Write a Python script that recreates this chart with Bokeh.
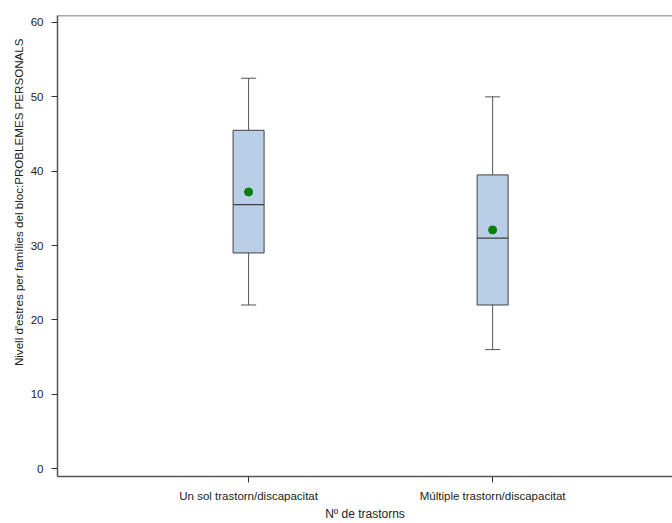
from bokeh.plotting import figure
from bokeh.models import Range1d, FixedTicker, Span, ColumnDataSource, Title
from bokeh.embed import file_html
from bokeh.resources import INLINE

categories = ["Un sol trastorn/discapacitat", "Múltiple trastorn/discapacitat"]
positions = [1, 2]
whisker_low = [22.0, 16.0]
q1 = [29.0, 22.0]
median = [35.5, 31.0]
q3 = [45.5, 39.5]
whisker_high = [52.5, 50.0]
means = [37.2, 32.1]
x_title = "Nº de trastorns"
y_title = "Nivell d'estres per famílies del bloc:PROBLEMES PERSONALS"

box_w = 0.127
cap_w = 0.062

src = ColumnDataSource(dict(
    x=positions, lo=whisker_low, q1=q1, med=median, q3=q3, hi=whisker_high, mean=means,
    xl=[x - box_w / 2 for x in positions], xr=[x + box_w / 2 for x in positions],
    cl=[x - cap_w / 2 for x in positions], cr=[x + cap_w / 2 for x in positions],
))

p = figure(width=672, height=523, output_backend="svg", toolbar_location=None,
           x_range=Range1d(0.217, 2.737), y_range=Range1d(-1.07, 60.94),
           min_border_left=57, min_border_right=0, min_border_top=15, min_border_bottom=46)
p.outline_line_color = None
p.grid.visible = False
p.background_fill_color = "white"
p.border_fill_color = "white"

edge = "#404040"
# whiskers
p.segment(x0="x", y0="q3", x1="x", y1="hi", source=src, line_color="#555555", line_width=1)
p.segment(x0="x", y0="lo", x1="x", y1="q1", source=src, line_color="#555555", line_width=1)
p.segment(x0="cl", y0="hi", x1="cr", y1="hi", source=src, line_color="#555555", line_width=1)
p.segment(x0="cl", y0="lo", x1="cr", y1="lo", source=src, line_color="#555555", line_width=1)
# boxes
p.vbar(x="x", width=box_w, bottom="q1", top="q3", source=src,
       fill_color="#b8cfe7", line_color=edge, line_width=1)
p.segment(x0="xl", y0="med", x1="xr", y1="med", source=src, line_color=edge, line_width=1.2)
# means
p.scatter(x="x", y="mean", source=src, size=8, fill_color="#008000", line_color="#008000")

# top border
p.add_layout(Span(location=60.94, dimension="width", line_color="#555555", line_width=1.5))

font = "Liberation Sans"
p.xaxis.ticker = FixedTicker(ticks=positions)
p.xaxis.major_label_overrides = {pos: lab for pos, lab in zip(positions, categories)}
p.yaxis.ticker = FixedTicker(ticks=[0, 10, 20, 30, 40, 50, 60])
p.xaxis.minor_tick_line_color = None
p.yaxis.minor_tick_line_color = None
for ax in (p.xaxis, p.yaxis):
    ax.axis_line_color = "#555555"
    ax.axis_line_width = 1.5
    ax.major_tick_line_color = "#333333"
    ax.major_tick_out = 6
    ax.major_tick_in = 0
    ax.major_label_text_font = font
    ax.major_label_text_font_size = "11.5px"
    ax.major_label_text_color = "#222222"
    ax.axis_label_text_font = font
    ax.axis_label_text_font_size = "12px"
    ax.axis_label_text_font_style = "normal"
    ax.axis_label_text_color = "#222222"
p.xaxis.axis_label = x_title
p.xaxis.major_label_standoff = 7
p.xaxis.axis_label_standoff = 2
p.yaxis.major_label_standoff = 8

ytitle = Title(text=y_title, align="right", offset=23, text_font=font,
               text_font_size="11.6px", text_font_style="normal",
               text_color="#222222", standoff=5)
p.add_layout(ytitle, "left")

open("out.html", "w").write(file_html(p, INLINE))
